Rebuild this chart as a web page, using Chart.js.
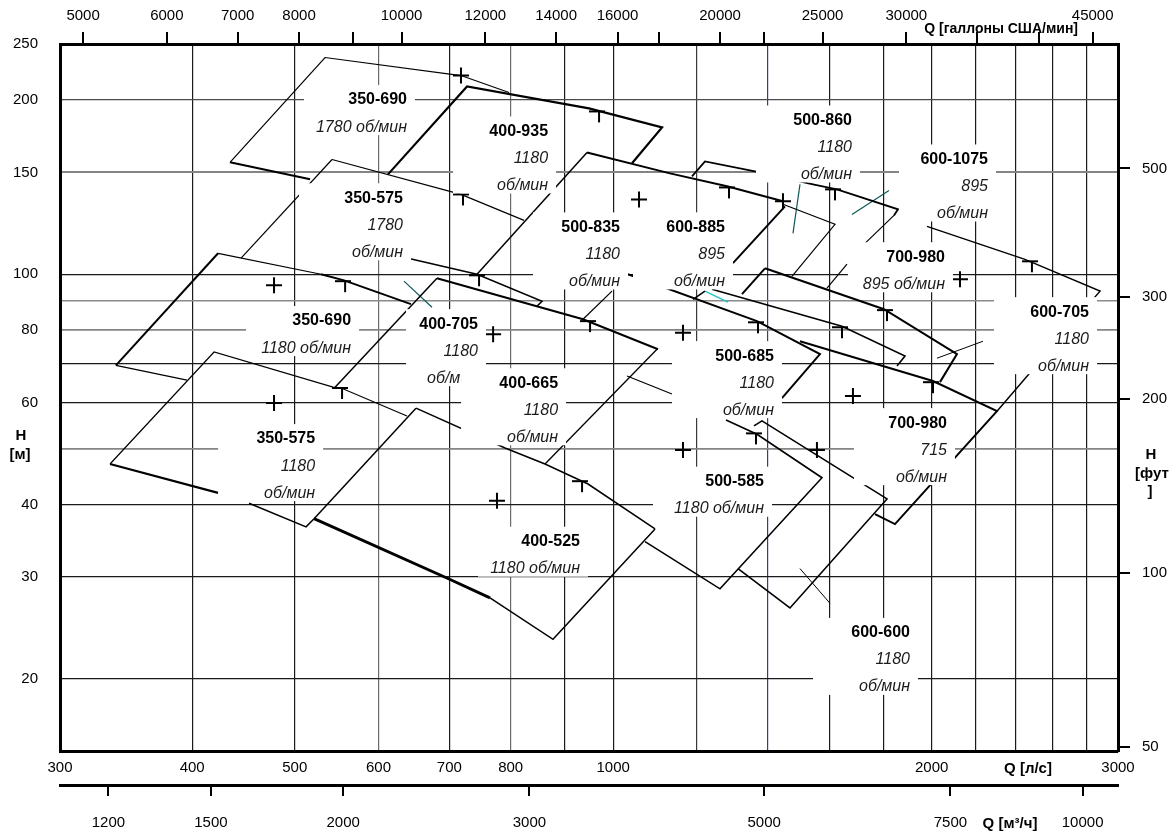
<!DOCTYPE html>
<html><head><meta charset="utf-8">
<script src="https://cdn.jsdelivr.net/npm/chart.js@4.4.1/dist/chart.umd.min.js"></script>
<style>html,body{margin:0;padding:0;background:#fff;}</style>
</head><body>
<canvas id="c" width="1176" height="835"></canvas>
<script>
// ===== Axis ticks (Q in л/с, H in м) =====
const Q_TICKS = [300,400,500,600,700,800,900,1000,1200,1400,1600,1800,2000,2200,2400,2600,2800,3000];
const Q_LABELS = [300,400,500,600,700,800,1000,2000,3000];
const H_TICKS = [20,30,40,50,60,70,80,90,100,150,200,250];
const H_LABELS = [20,30,40,60,80,100,150,200,250];
const GPM_TICKS = [5000,6000,7000,8000,9000,10000,12000,14000,16000,17500,20000,22000,25000,30000,35000,40000,45000];
const GPM_LABELS = [5000,6000,7000,8000,10000,12000,14000,16000,20000,25000,30000,45000];
const M3H_TICKS = [1200,1500,2000,3000,5000,7500,10000];
const FT_TICKS = [50,100,200,300,500];
const GPM_PER_LS = 15.8503, M3H_PER_LS = 3.6, FT_PER_M = 3.28084;

// ===== Pump range curves: [Q л/с, H м] =====
const A_350_690_1780_top = [[434.3,156.1],[534.1,236.9],[718.0,220.5],[797.1,206.1]];
const A_400_935_top = [[612.5,148.8],[727.5,211.1],[948.7,193.5],[1112.1,179.4],[1041.8,155.5]];
const A_350_690_1780_bottom = [[434.3,156.1],[517.0,145.9]];
const A_350_575_1780_top = [[542.3,157.9],[718.0,137.4],[823.6,123.9]];
const A_350_575_1780_left = [[542.3,157.9],[444.9,106.6]];
const A_500_835_left = [[944.6,162.4],[743.5,100]];
const A_350_575_1780_bottom = [[639.8,106.6],[743.5,100],[856.5,89.8],[847.2,88.1]];
const A_400_705_top = [[681.4,98.4],[936.4,83.6],[1102.4,74.2]];
const A_400_705_left = [[681.4,98.4],[545.9,63.8]];
const A_350_690_1180_topA = [[423.2,108.7],[529.5,100]];
const A_350_690_1180_topB = [[529.5,100],[556.7,97.6],[643.9,88.8]];
const A_350_690_1180_left = [[423.2,108.7],[338.8,69.6]];
const A_350_690_1180_bottom = [[338.8,69.6],[395.5,65.6]];
const A_350_575_1180_top = [[638.4,56.9],[553.1,63.6],[543.5,63.8],[419.5,73.4],[334.5,47.0]];
const A_350_575_1180_bottomA = [[334.5,47.0],[423.2,41.9]];
const A_350_575_1180_bottomB = [[452.7,40.2],[512.5,36.6],[521.5,37.8]];
const A_400_525_left = [[651.0,58.7],[521.5,37.8]];
const A_400_525_bottomA = [[521.5,37.8],[697.9,29.8],[764.8,27.6]];
const A_400_525_bottomB = [[764.8,27.6],[877.2,23.4],[1095.3,36.3]];
const A_400_525_top = [[651.0,58.7],[790.2,50.1],[862.1,47.0],[946.7,43.4],[1095.3,36.3]];
const A_400_665_left = [[862.1,47.0],[1100.0,74.2]];
const A_400_665_top = [[1030.5,66.7],[1136.5,62.1]];
const A_500_835_inner = [[936.4,83.6],[997.4,93.5]];
const A_500_685_top = [[1032.7,100],[1367.4,83.0],[1568.3,72.8],[1443.8,61.1]];
const A_600_885_cornerA = [[1189.6,90.5],[1221.1,93.5]];
const A_600_885_cornerB = [[1221.1,93.5],[1283.8,89.5]];
const A_700_980_895_mid = [[1239.8,94.2],[1645.2,81.3],[1887.1,72.2],[1854.5,69.4]];
const A_700_980_715_top = [[1501.5,76.6],[2005.6,65.4],[2305.4,58.0],[1846.4,37.0],[1767.8,38.5]];
const A_700_980_895_left = [[1391.4,102.4],[1323.5,92.4]];
const A_700_980_895_top = [[1391.4,102.4],[1802.8,87.0],[2113.1,72.8],[2036.3,65.1]];
const A_700_980_895_edge = [[1592.4,94.6],[1663.3,104.1]];
const A_500_835_top = [[944.6,162.4],[1131.6,149.4],[1281.0,141.9],[1447.0,133.7]];
const A_500_860_right = [[1447.0,132.1],[1620.4,122.0],[1475.6,99.2]];
const A_500_835_right = [[1453.3,131.0],[1297.8,104.5]];
const A_600_885_top = [[1187.0,147.6],[1221.1,156.7],[1361.4,150.6],[1544.6,143.0],[1627.4,140.2],[1858.6,129.5],[1842.4,126.4]];
const A_600_885_right = [[1842.4,126.4],[1729.7,113.1]];
const A_600_1075_top = [[1979.6,121.0],[2449.9,106.1],[2884.8,93.5],[2305.4,58.0]];
const A_misc = [[2023.1,71.6],[2236.2,76.6]];
const A_500_585 = [[1278.2,56.0],[1367.4,52.9],[1575.2,44.5],[1261.6,28.6],[1071.7,34.5]];
const A_600_600 = [[1358.5,54.7],[1382.3,55.8],[1814.6,40.9],[1469.2,26.5],[1312.0,31.0]];
const A_600_600_x = [[1501.5,31.0],[1602.8,27.0]];
const TEAL_1 = [[634.2,97.3],[674.1,87.7]];
const TEAL_2 = [[1501.5,143.0],[1478.8,117.7]];
const TEAL_3 = [[1681.4,126.9],[1822.5,139.6]];

// ===== Markers =====
const PLUS_PTS = [[718.0,220.5],[1057.8,134.7],[1447.0,133.7],[478.0,95.7],[770,78.8],[1164,79.2],[478.0,59.9],[776.5,40.6],[1164,49.7],[1558,49.7],[1685,61.6],[2127,98.0]];
const TEE_PTS = [[965.4,191.2],[718.0,137.4],[555.5,97.3],[743.5,99.6],[946.7,83.0],[551.8,63.6],[930.3,43.9],[1281,141.3],[1364.4,82.6],[1638.1,81.0],[1806.7,86.7],[1613.3,140.2],[2476.7,105.3],[1996.9,65.1],[1358.5,53.1]];

// ===== Pump labels: text lines and anchor [Q at right edge, H of first line] =====
const LABEL_TEXT = [
  ['350-690','1780 об/мин'],
  ['400-935','1180','об/мин'],
  ['350-575','1780','об/мин'],
  ['500-835','1180','об/мин'],
  ['600-885','895','об/мин'],
  ['500-860','1180','об/мин'],
  ['600-1075','895','об/мин'],
  ['350-690','1180 об/мин'],
  ['400-705','1180','об/мин'],
  ['400-665','1180','об/мин'],
  ['500-685','1180','об/мин'],
  ['700-980','895 об/мин'],
  ['600-705','1180','об/мин'],
  ['350-575','1180','об/мин'],
  ['700-980','715','об/мин'],
  ['500-585','1180 об/мин'],
  ['400-525','1180 об/мин'],
  ['600-600','1180','об/мин']
];
const LABEL_AT = [
  [638.4,200],[867.8,176.5],[632.9,135.3],[1014.9,120.5],[1275.4,120.5],[1681.4,184.4],
  [2260.7,157.9],[565.2,83.0],[745.1,82.0],[886.9,64.8],[1418.9,72.2],[2058.6,107.0],
  [2816.5,86.0],[522.7,51.9],[2067.6,55.3],[1388.4,43.8],[930.3,34.5],[1907.8,24.0]
];

// ===== Styles =====
const FAM = "'Liberation Sans', Arial, Helvetica, sans-serif";
const LABEL_BOX_W = [111,103,112,95,100,104,97,113,80,105,110,105,103,105,101,119,110,105];
const BLACK = '#000', TEAL = '#0e5858', CYAN = '#22c4c4';
const SERIES = [
  [A_350_690_1780_top,1.2],[A_400_935_top,2.2],[A_350_690_1780_bottom,2],[A_350_575_1780_top,1.2],
  [A_350_575_1780_left,1.2],[A_500_835_left,1.5],[A_350_575_1780_bottom,1.5],[A_400_705_top,2],
  [A_400_705_left,1.5],[A_350_690_1180_topA,1.2],[A_350_690_1180_topB,2],[A_350_690_1180_left,2],
  [A_350_690_1180_bottom,1.2],[A_350_575_1180_top,1.2],[A_350_575_1180_bottomA,2.2],[A_350_575_1180_bottomB,1.5],
  [A_400_525_left,1.5],[A_400_525_bottomA,3],[A_400_525_bottomB,1.5],[A_400_525_top,1.5],
  [A_400_665_left,1.3],[A_400_665_top,1.2],[A_500_835_inner,1.2],[A_500_685_top,2],
  [A_600_885_cornerA,1.5],[A_600_885_cornerB,1.5,CYAN],[A_700_980_895_mid,1.6],[A_700_980_715_top,2],
  [A_700_980_895_left,2],[A_700_980_895_top,2],[A_700_980_895_edge,1.2],[A_500_835_top,2],
  [A_500_860_right,1.2],[A_500_835_right,2],[A_600_885_top,1.8],[A_600_885_right,1.2],
  [A_600_1075_top,1.5],[A_misc,1],[A_500_585,1.6],[A_600_600,1.6],[A_600_600_x,1],
  [TEAL_1,1.2,TEAL],[TEAL_2,1.2,TEAL],[TEAL_3,1.2,TEAL]
];
const X_GRID_COLOR = {600:'#6a6a6a',800:'#6a6a6a',1200:'#3a3a3a',1400:'#3c3c70'};
const Y_GRID_COLOR = {50:'#858585',80:'#858585',90:'#8a8a8a',150:'#858585',200:'#4a4a4a'};
const Y_GRID_W = {50:1.7,80:1.7,90:1.5,150:2};

// T-shaped marker
const tee = document.createElement('canvas');
tee.width = 16; tee.height = 24;
(function(){ const g = tee.getContext('2d'); g.fillStyle = '#000'; g.fillRect(0,11,16,2); g.fillRect(9,11,2,12); })();

const toXY = arr => arr.map(p => ({x:p[0], y:p[1]}));
const setTicks = list => s => { s.ticks = list.map(v => ({value:v})); };

const datasets = [
  {data: toXY(PLUS_PTS), showLine:false, pointStyle:'cross', pointRadius:8, pointBorderWidth:2, pointBorderColor:BLACK, borderColor:BLACK},
  {data: toXY(TEE_PTS), showLine:false, pointStyle:tee, pointRadius:6, borderColor:BLACK}
].concat(SERIES.map(([d,w,col]) => ({
  data: toXY(d), showLine:true, borderColor: col || BLACK, borderWidth: w,
  pointRadius:0, fill:false, tension:0
})));

const FONT = {family:FAM, size:15};
const BOLD16 = 'bold 16px ' + FAM, ITAL16 = 'italic 16px ' + FAM;
const LINE_GAP = 27;

const overlay = {
  id:'overlay',
  afterDatasetsDraw(chart){
    const {ctx, scales:{x, y}} = chart;
    ctx.save();
    LABEL_TEXT.forEach((lines, i) => {
      const R = x.getPixelForValue(LABEL_AT[i][0]);
      const Y = y.getPixelForValue(LABEL_AT[i][1]);
      const right = R + 8, left = right - LABEL_BOX_W[i];
      const top = Y - 15, bottom = Y + (lines.length - 1) * LINE_GAP + 8;
      ctx.fillStyle = '#fff';
      ctx.fillRect(left, top, right - left, bottom - top);
      ctx.textAlign = 'right'; ctx.textBaseline = 'middle';
      lines.forEach((t, j) => {
        ctx.font = j === 0 ? BOLD16 : ITAL16;
        ctx.fillStyle = j === 0 ? '#000' : '#1c1c1c';
        ctx.fillText(t, R, Y + j * LINE_GAP);
      });
    });
    ctx.restore();
  },
  afterDraw(chart){
    const {ctx, chartArea:a} = chart;
    ctx.save();
    ctx.fillStyle = '#000';
    ctx.textBaseline = 'middle';
    ctx.font = 'bold 14px ' + FAM; ctx.textAlign = 'right';
    ctx.fillText('Q [галлоны США/мин]', a.right - 40, a.top - 15);
    ctx.font = 'bold 15px ' + FAM; ctx.textAlign = 'center';
    ctx.fillText('Q [л/с]', a.right - 90, a.bottom + 18);
    ctx.fillText('Q [м³/ч]', a.right - 108, a.bottom + 73);
    ctx.fillText('H', a.left - 39, a.top + 392);
    ctx.fillText('[м]', a.left - 40, a.top + 411);
    ctx.fillText('H', a.right + 33, a.top + 411);
    ctx.fillText('[фут', a.right + 34, a.top + 430);
    ctx.fillText(']', a.right + 32, a.top + 448);
    ctx.restore();
  }
};

new Chart(document.getElementById('c'), {
  type:'scatter',
  data:{datasets},
  options:{
    responsive:false, animation:false,
    layout:{padding:0},
    plugins:{legend:{display:false}, tooltip:{enabled:false}},
    scales:{
      x:{
        type:'logarithmic', position:'bottom', weight:0, min:300, max:3000,
        afterBuildTicks:setTicks(Q_TICKS), afterFit:s => { s.height = 34; },
        grid:{drawTicks:false, color:c => (c.tick && X_GRID_COLOR[c.tick.value]) || '#1a1a1a', lineWidth:1.2},
        border:{display:true, color:'#000', width:3},
        ticks:{autoSkip:false, maxRotation:0, minRotation:0, padding:8, color:'#000', font:FONT,
               callback:v => Q_LABELS.includes(v) ? String(v) : ''}
      },
      xm3:{
        type:'logarithmic', position:'bottom', weight:1, min:300*M3H_PER_LS, max:3000*M3H_PER_LS,
        afterBuildTicks:setTicks(M3H_TICKS), afterFit:s => { s.height = 50; },
        grid:{drawOnChartArea:false, drawTicks:true, tickLength:11, color:'#000', lineWidth:2},
        border:{display:true, color:'#000', width:3},
        ticks:{autoSkip:false, maxRotation:0, minRotation:0, padding:18, color:'#000', font:FONT,
               callback:v => String(v)}
      },
      xg:{
        type:'logarithmic', position:'top', min:300*GPM_PER_LS, max:3000*GPM_PER_LS,
        afterBuildTicks:setTicks(GPM_TICKS), afterFit:s => { s.height = 44; },
        grid:{drawOnChartArea:false, drawTicks:true, tickLength:12, color:'#000', lineWidth:2},
        border:{display:true, color:'#000', width:3},
        ticks:{autoSkip:false, maxRotation:0, minRotation:0, padding:7, color:'#000', font:FONT,
               callback:v => GPM_LABELS.includes(v) ? String(v) : ''}
      },
      y:{
        type:'logarithmic', position:'left', min:15, max:250,
        afterBuildTicks:setTicks(H_TICKS), afterFit:s => { s.width = 60; },
        grid:{drawTicks:false, color:c => (c.tick && Y_GRID_COLOR[c.tick.value]) || '#1a1a1a',
              lineWidth:c => (c.tick && Y_GRID_W[c.tick.value]) || 1.2},
        border:{display:true, color:'#000', width:3},
        ticks:{autoSkip:false, padding:22, color:'#000', font:FONT,
               callback:v => H_LABELS.includes(v) ? String(v) : ''}
      },
      yft:{
        type:'logarithmic', position:'right', min:15*FT_PER_M, max:250*FT_PER_M,
        afterBuildTicks:setTicks(FT_TICKS), afterFit:s => { s.width = 58; },
        grid:{drawOnChartArea:false, drawTicks:true, tickLength:12, color:'#000', lineWidth:2},
        border:{display:true, color:'#000', width:3},
        ticks:{autoSkip:false, padding:12, color:'#000', font:FONT, callback:v => String(v)}
      }
    }
  },
  plugins:[overlay]
});
</script>
</body></html>
